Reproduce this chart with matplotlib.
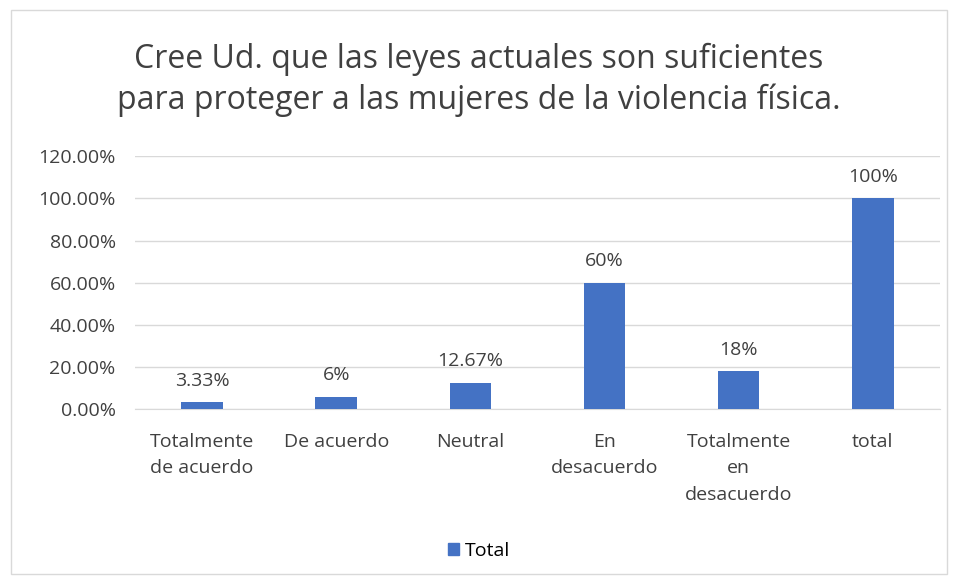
import matplotlib.pyplot as plt
import matplotlib.patches as mpatches
from matplotlib.ticker import FuncFormatter

plt.rcParams['font.family'] = ['Open Sans', 'DejaVu Sans']

categorias = ["Totalmente\nde acuerdo", "De acuerdo", "Neutral", "En\ndesacuerdo",
              "Totalmente\nen\ndesacuerdo", "total"]
valores = [3.33, 6, 12.67, 60, 18, 100]
etiquetas = ["3.33%", "6%", "12.67%", "60%", "18%", "100%"]
titulo = "Cree Ud. que las leyes actuales son suficientes\npara proteger a las mujeres de la violencia física."

azul = '#4472C4'
gris = '#404040'
fig = plt.figure(figsize=(9.58, 5.83), dpi=100)
ax = fig.add_axes([0.141, 0.298, 0.84, 0.434])

x = range(len(categorias))
ax.bar(x, valores, width=0.31, color=azul, zorder=3)
for i, v in enumerate(valores):
    ax.text(i, v + 6, etiquetas[i], ha='center', va='bottom', fontsize=14, color=gris)

ax.set_xlim(-0.5, len(categorias) - 0.5)
ax.set_ylim(0, 120)
ax.set_yticks(range(0, 121, 20))
ax.yaxis.set_major_formatter(FuncFormatter(lambda v, p: "%.2f%%" % v))
ax.set_xticks(list(x))
ax.set_xticklabels(categorias, fontsize=14, color=gris, linespacing=1.6, va='top')
ax.tick_params(axis='y', labelsize=14, labelcolor=gris, length=0, pad=14)
ax.tick_params(axis='x', length=0, pad=17)
ax.grid(axis='y', color='#d9d9d9', linewidth=1, zorder=0)
for s in ['top', 'right', 'left']:
    ax.spines[s].set_visible(False)
ax.spines['bottom'].set_color('#d9d9d9')

fig.text(0.5, 0.863, titulo, ha='center', va='center', fontsize=23, color=gris, linespacing=1.27)

h = mpatches.Patch(color=azul, label='Total')
fig.legend(handles=[h], loc='center', bbox_to_anchor=(0.5, 0.055), frameon=False, fontsize=14,
           handlelength=0.6, handleheight=0.6, handletextpad=0.3)

fig.patches.append(mpatches.Rectangle((0.011, 0.015), 0.978, 0.968, transform=fig.transFigure,
                                      fill=False, edgecolor='#d9d9d9', linewidth=1))

fig.savefig('out.png', dpi=100)
